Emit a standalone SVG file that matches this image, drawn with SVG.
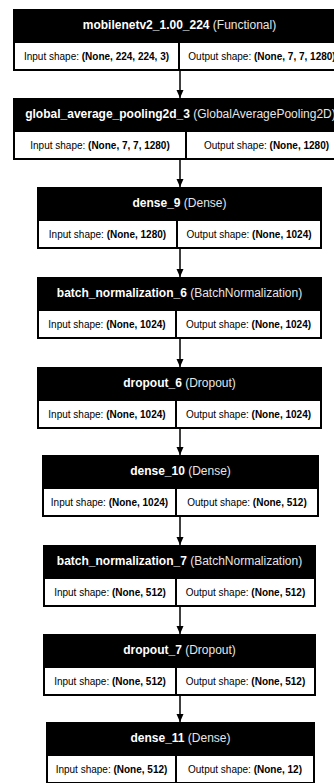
<svg xmlns="http://www.w3.org/2000/svg" width="334" height="783" viewBox="0 0 334 783">
<defs>
<marker id="ah" markerUnits="userSpaceOnUse" markerWidth="8" markerHeight="8" refX="8" refY="3.5" orient="auto">
<path d="M0,0 L8,3.5 L0,7 z" fill="#000"/>
</marker>
<style>
.box{fill:#000}
.cell{fill:#fff}
.hd{font-family:"Liberation Sans",Arial,sans-serif;font-size:12px;fill:#fff;text-anchor:middle}
.hd .b{font-weight:bold}
.hd .t{fill:#e6e6e6}
.ct{font-family:"Liberation Sans",Arial,sans-serif;font-size:10px;fill:#000;text-anchor:middle}
.ct .b{font-weight:bold}
.edge{stroke:#000;stroke-width:1.5;fill:none;marker-end:url(#ah)}
</style>
</defs>
<rect width="334" height="783" fill="#fff"/>

<g id="connectors">
<line class="edge" x1="180" y1="71" x2="180" y2="98"/>
<line class="edge" x1="180" y1="160" x2="180" y2="187"/>
<line class="edge" x1="180" y1="249" x2="180" y2="277"/>
<line class="edge" x1="180" y1="339" x2="180" y2="367"/>
<line class="edge" x1="180" y1="429" x2="180" y2="455"/>
<line class="edge" x1="180" y1="517" x2="180" y2="545"/>
<line class="edge" x1="180" y1="607" x2="180" y2="634"/>
<line class="edge" x1="180" y1="696" x2="180" y2="722"/>
</g>

<g id="mobilenetv2">
<rect class="box" x="13" y="9" width="333" height="62"/>
<rect class="cell" x="15" y="43" width="163" height="26"/>
<rect class="cell" x="180" y="43" width="164" height="26"/>
<text class="hd" x="179.5" y="29"><tspan class="b">mobilenetv2_1.00_224</tspan><tspan class="t"> (Functional)</tspan></text>
<text class="ct" x="96.5" y="59.5">Input shape: <tspan class="b">(None, 224, 224, 3)</tspan></text>
<text class="ct" x="262" y="59.5">Output shape: <tspan class="b">(None, 7, 7, 1280)</tspan></text>
</g>

<g id="global_average_pooling2d_3">
<rect class="box" x="13" y="98" width="335" height="62"/>
<rect class="cell" x="15" y="132" width="170" height="26"/>
<rect class="cell" x="187" y="132" width="159" height="26"/>
<text class="hd" x="180.5" y="118"><tspan class="b">global_average_pooling2d_3</tspan><tspan class="t"> (GlobalAveragePooling2D)</tspan></text>
<text class="ct" x="100" y="148.5">Input shape: <tspan class="b">(None, 7, 7, 1280)</tspan></text>
<text class="ct" x="266.5" y="148.5">Output shape: <tspan class="b">(None, 1280)</tspan></text>
</g>

<g id="dense_9">
<rect class="box" x="37" y="187" width="285" height="62"/>
<rect class="cell" x="39" y="221" width="137" height="26"/>
<rect class="cell" x="178" y="221" width="142" height="26"/>
<text class="hd" x="179.5" y="207"><tspan class="b">dense_9</tspan><tspan class="t"> (Dense)</tspan></text>
<text class="ct" x="107.5" y="237.5">Input shape: <tspan class="b">(None, 1280)</tspan></text>
<text class="ct" x="249" y="237.5">Output shape: <tspan class="b">(None, 1024)</tspan></text>
</g>

<g id="batch_normalization_6">
<rect class="box" x="37" y="277" width="285" height="62"/>
<rect class="cell" x="39" y="311" width="136" height="26"/>
<rect class="cell" x="177" y="311" width="143" height="26"/>
<text class="hd" x="179.5" y="297"><tspan class="b">batch_normalization_6</tspan><tspan class="t"> (BatchNormalization)</tspan></text>
<text class="ct" x="107" y="327.5">Input shape: <tspan class="b">(None, 1024)</tspan></text>
<text class="ct" x="248.5" y="327.5">Output shape: <tspan class="b">(None, 1024)</tspan></text>
</g>

<g id="dropout_6">
<rect class="box" x="37" y="367" width="285" height="62"/>
<rect class="cell" x="39" y="401" width="136" height="26"/>
<rect class="cell" x="177" y="401" width="143" height="26"/>
<text class="hd" x="179.5" y="387"><tspan class="b">dropout_6</tspan><tspan class="t"> (Dropout)</tspan></text>
<text class="ct" x="107" y="417.5">Input shape: <tspan class="b">(None, 1024)</tspan></text>
<text class="ct" x="248.5" y="417.5">Output shape: <tspan class="b">(None, 1024)</tspan></text>
</g>

<g id="dense_10">
<rect class="box" x="42" y="455" width="277" height="62"/>
<rect class="cell" x="44" y="489" width="131" height="26"/>
<rect class="cell" x="177" y="489" width="140" height="26"/>
<text class="hd" x="180.5" y="475"><tspan class="b">dense_10</tspan><tspan class="t"> (Dense)</tspan></text>
<text class="ct" x="109.5" y="505.5">Input shape: <tspan class="b">(None, 1024)</tspan></text>
<text class="ct" x="247" y="505.5">Output shape: <tspan class="b">(None, 512)</tspan></text>
</g>

<g id="batch_normalization_7">
<rect class="box" x="43" y="545" width="273" height="62"/>
<rect class="cell" x="45" y="579" width="130" height="26"/>
<rect class="cell" x="177" y="579" width="137" height="26"/>
<text class="hd" x="179.5" y="565"><tspan class="b">batch_normalization_7</tspan><tspan class="t"> (BatchNormalization)</tspan></text>
<text class="ct" x="110" y="595.5">Input shape: <tspan class="b">(None, 512)</tspan></text>
<text class="ct" x="245.5" y="595.5">Output shape: <tspan class="b">(None, 512)</tspan></text>
</g>

<g id="dropout_7">
<rect class="box" x="43" y="634" width="273" height="62"/>
<rect class="cell" x="45" y="668" width="130" height="26"/>
<rect class="cell" x="177" y="668" width="137" height="26"/>
<text class="hd" x="179.5" y="654"><tspan class="b">dropout_7</tspan><tspan class="t"> (Dropout)</tspan></text>
<text class="ct" x="110" y="684.5">Input shape: <tspan class="b">(None, 512)</tspan></text>
<text class="ct" x="245.5" y="684.5">Output shape: <tspan class="b">(None, 512)</tspan></text>
</g>

<g id="dense_11">
<rect class="box" x="46" y="722" width="269" height="62"/>
<rect class="cell" x="48" y="756" width="127" height="26"/>
<rect class="cell" x="177" y="756" width="136" height="26"/>
<text class="hd" x="180.5" y="742"><tspan class="b">dense_11</tspan><tspan class="t"> (Dense)</tspan></text>
<text class="ct" x="111.5" y="772.5">Input shape: <tspan class="b">(None, 512)</tspan></text>
<text class="ct" x="245" y="772.5">Output shape: <tspan class="b">(None, 12)</tspan></text>
</g>
</svg>
